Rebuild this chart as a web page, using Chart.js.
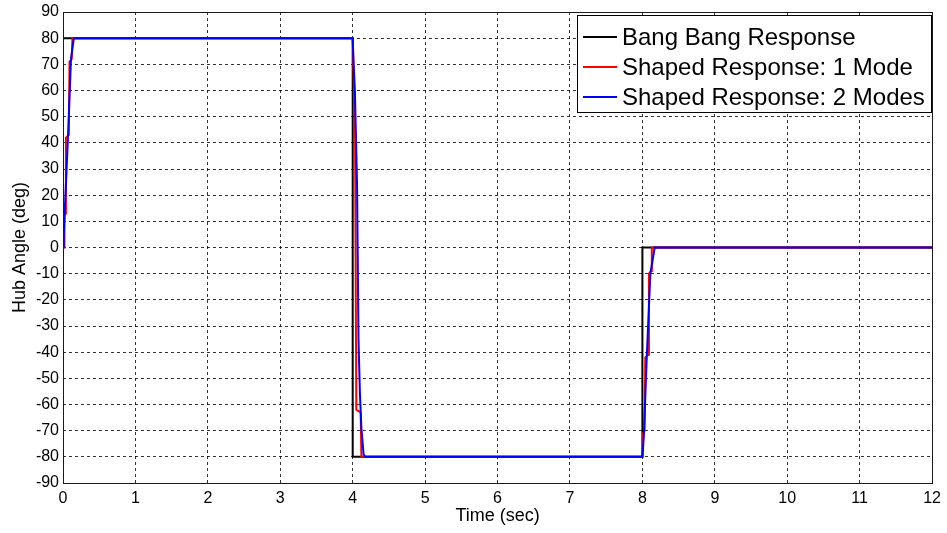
<!DOCTYPE html>
<html>
<head>
<meta charset="utf-8">
<title>Hub Angle</title>
<script src="https://cdn.jsdelivr.net/npm/chart.js@4.4.1/dist/chart.umd.min.js"></script>
<style>
  html, body { margin: 0; padding: 0; background: #fff; }
  #wrap { position: relative; width: 947px; height: 533px; }
</style>
</head>
<body>
<div id="wrap"><canvas id="hub-chart"></canvas></div>
<script>
// axis ticks
const timeTicks = [0, 1, 2, 3, 4, 5, 6, 7, 8, 9, 10, 11, 12];
const angleTicks = [-90, -80, -70, -60, -50, -40, -30, -20, -10, 0, 10, 20, 30, 40, 50, 60, 70, 80, 90];

// bang bang command response
const bangTime  = [0, 0, 4, 4, 8, 8, 12];
const bangAngle = [0, 80, 80, -80, -80, 0, 0];

// one mode shaped response
const oneModeTime  = [0, 0.015, 0.02, 0.03, 0.04, 0.08, 0.09, 0.12, 0.13,
                      4.0, 4.02, 4.03, 4.05, 4.11, 4.12,
                      8.0, 8.01, 8.03, 8.04, 8.08, 8.09, 8.12, 8.13, 12];
const oneModeAngle = [0, 0, 12, 13, 42, 43, 71, 72, 80,
                      80, 58, 57, -62, -63, -80,
                      -80, -71, -70, -42, -41, -10, -9, 0, 0];

// two mode shaped response
const twoModeTime  = [0, 0.01, 0.07, 0.11, 0.15,
                      4.0, 4.01, 4.03, 4.06, 4.08, 4.10, 4.12, 4.15, 4.17,
                      8.0, 8.02, 8.06, 8.11, 8.17, 12];
const twoModeAngle = [0, 5, 43, 72, 80,
                      80, 72, 60, 24, -35, -56, -69, -79, -80,
                      -80, -72, -42, -10, 0, 0];

const seriesNames  = ['Bang Bang Response', 'Shaped Response: 1 Mode', 'Shaped Response: 2 Modes'];
const seriesColors = ['#000000', '#ff0000', '#0000ff'];

function toPoints(xs, ys) {
  return xs.map((x, i) => ({ x: x, y: ys[i] }));
}

const FONT = "'Liberation Sans', Arial, sans-serif";

// box around the plot area plus the legend in the upper right corner
const frameAndLegend = {
  id: 'frameAndLegend',
  afterDraw(chart) {
    const { ctx, chartArea: a } = chart;
    ctx.save();
    ctx.strokeStyle = '#1a1a1a';
    ctx.lineWidth = 1;
    ctx.setLineDash([]);
    ctx.strokeRect(Math.round(a.left) + 0.5, Math.round(a.top) + 0.5,
                   Math.round(a.right - a.left), Math.round(a.bottom - a.top));

    // legend
    const bx = 577, by = 15, bw = 354, bh = 97;
    ctx.fillStyle = '#fff';
    ctx.fillRect(bx, by, bw, bh);
    ctx.strokeStyle = '#000';
    ctx.strokeRect(bx + 0.5, by + 0.5, bw, bh);
    ctx.font = '24px ' + FONT;
    ctx.textBaseline = 'middle';
    chart.data.datasets.forEach((ds, i) => {
      const y = by + 22 + i * 30;
      ctx.strokeStyle = ds.borderColor;
      ctx.lineWidth = 2;
      ctx.beginPath();
      ctx.moveTo(583, y);
      ctx.lineTo(617, y);
      ctx.stroke();
      ctx.fillStyle = '#000';
      ctx.fillText(ds.label, 622, y + 1);
    });
    ctx.restore();
  }
};

const datasets = [
  toPoints(bangTime, bangAngle),
  toPoints(oneModeTime, oneModeAngle),
  toPoints(twoModeTime, twoModeAngle)
].map((pts, i) => ({
  label: seriesNames[i],
  data: pts,
  borderColor: seriesColors[i],
  backgroundColor: seriesColors[i],
  borderWidth: 2,
  pointRadius: 0,
  tension: 0,
  fill: false,
  order: 2 - i   // blue on top
}));

new Chart(document.getElementById('hub-chart'), {
  type: 'line',
  data: { datasets: datasets },
  options: {
    responsive: true,
    maintainAspectRatio: false,
    animation: false,
    layout: { padding: { left: 0, top: 0, right: 14, bottom: 0 } },
    plugins: {
      legend: { display: false },
      tooltip: { enabled: false }
    },
    scales: {
      x: {
        type: 'linear',
        min: 0,
        max: 12,
        afterBuildTicks: (scale) => { scale.ticks = timeTicks.map(v => ({ value: v })); },
        afterFit: (scale) => { scale.height = 50; },
        grid: { color: 'rgba(0,0,0,0.8)', drawTicks: false, lineWidth: 1 },
        border: { display: false, dash: [3, 3] },
        ticks: { color: '#000', font: { family: FONT, size: 16 }, padding: 6, maxRotation: 0 },
        title: { display: true, text: 'Time (sec)', color: '#000',
                 font: { family: FONT, size: 18 }, padding: { top: 0, bottom: 6 } }
      },
      y: {
        type: 'linear',
        min: -90,
        max: 90,
        afterBuildTicks: (scale) => { scale.ticks = angleTicks.map(v => ({ value: v })); },
        afterFit: (scale) => { scale.width = 63; },
        grid: { color: 'rgba(0,0,0,0.8)', drawTicks: false, lineWidth: 1 },
        border: { display: false, dash: [3, 3] },
        ticks: { color: '#000', font: { family: FONT, size: 16, lineHeight: 1.0 }, padding: 4 },
        title: { display: true, text: 'Hub Angle (deg)', color: '#000',
                 font: { family: FONT, size: 18 }, padding: { top: 9, bottom: 0 } }
      }
    }
  },
  plugins: [frameAndLegend]
});
</script>
</body>
</html>
